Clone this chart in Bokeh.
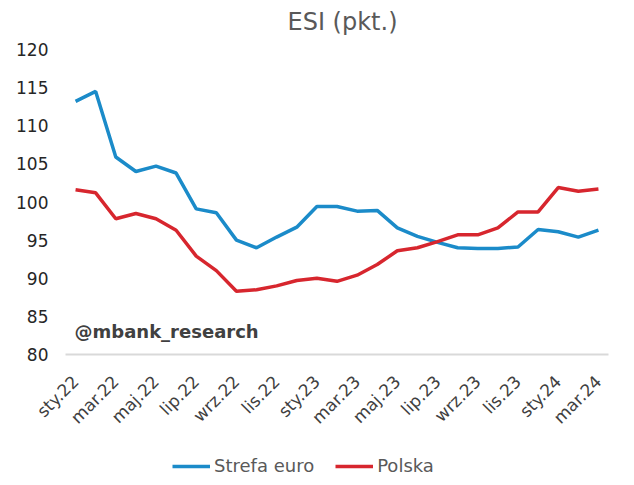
import math
from bokeh.plotting import figure
from bokeh.layouts import column
from bokeh.models import Label, Legend, LegendItem, FixedTicker, ColumnDataSource
from bokeh.embed import file_html
from bokeh.resources import INLINE

months = ["sty.22", "lut.22", "mar.22", "kwi.22", "maj.22", "cze.22", "lip.22", "sie.22", "wrz.22", "paź.22", "lis.22", "gru.22",
          "sty.23", "lut.23", "mar.23", "kwi.23", "maj.23", "cze.23", "lip.23", "sie.23", "wrz.23", "paź.23", "lis.23", "gru.23",
          "sty.24", "lut.24", "mar.24"]
strefa_euro = [113.2, 114.5, 105.9, 104.0, 104.7, 103.8, 99.1, 98.6, 95.0, 94.0, 95.4, 96.7,
               99.4, 99.4, 98.8, 98.9, 96.6, 95.5, 94.7, 94.0, 93.9, 93.9, 94.1, 96.4,
               96.1, 95.4, 96.3]
polska = [101.6, 101.2, 97.8, 98.5, 97.8, 96.3, 92.9, 91.0, 88.3, 88.5, 89.0, 89.7,
          90.0, 89.6, 90.4, 91.8, 93.6, 94.0, 94.8, 95.7, 95.7, 96.6, 98.7, 98.7,
          101.9, 101.4, 101.7]
y_ticks = [80, 85, 90, 95, 100, 105, 110, 115, 120]
title_text = "ESI (pkt.)"
watermark = "@mbank_research"
series_names = ["Strefa euro", "Polska"]
colors = ["#1b8bc9", "#d7262e"]

FONT = "DejaVu Sans"
x = list(range(len(months)))
src = ColumnDataSource(dict(x=x, euro=strefa_euro, pl=polska))

# title strip
pt = figure(frame_width=618, frame_height=40, output_backend="svg", toolbar_location=None,
            x_range=(0, 618), y_range=(0, 40), x_axis_type=None, y_axis_type=None,
            min_border=0)
pt.outline_line_color = None
pt.xgrid.grid_line_color = None
pt.ygrid.grid_line_color = None
pt.add_layout(Label(x=222, y=19, text=title_text, text_align="left", text_baseline="middle",
                    text_font=FONT, text_font_size="24px", text_color="#595959"))

# main chart
p = figure(frame_width=543, frame_height=305, output_backend="svg", toolbar_location=None,
           x_range=(-0.5, len(months) - 0.5), y_range=(80, 120),
           min_border_left=65, min_border_right=10, min_border_top=9, min_border_bottom=94)
p.title = None
p.outline_line_color = None
p.background_fill_color = "white"
p.border_fill_color = "white"
p.xgrid.grid_line_color = None
p.ygrid.grid_line_color = None

p.line("x", "euro", source=src, line_color=colors[0], line_width=3.5)
p.line("x", "pl", source=src, line_color=colors[1], line_width=3.5)

# x axis
p.xaxis.ticker = FixedTicker(ticks=x[::2])
p.xaxis.major_label_overrides = {i: months[i] for i in x}
p.xaxis.major_label_orientation = math.pi / 4
p.xaxis.axis_line_color = "#d9d9d9"
p.xaxis.axis_line_width = 2
p.xaxis.major_tick_line_color = None
p.xaxis.minor_tick_line_color = None
p.xaxis.major_tick_out = 0
p.xaxis.major_tick_in = 0
p.xaxis.major_label_standoff = 24
p.xaxis.major_label_text_font = FONT
p.xaxis.major_label_text_font_size = "17px"
p.xaxis.major_label_text_color = "#404040"

# y axis
p.yaxis.ticker = FixedTicker(ticks=y_ticks)
p.yaxis.axis_line_color = None
p.yaxis.major_tick_line_color = None
p.yaxis.minor_tick_line_color = None
p.yaxis.major_tick_out = 0
p.yaxis.major_tick_in = 0
p.yaxis.major_label_standoff = 17
p.yaxis.major_label_text_font = FONT
p.yaxis.major_label_text_font_size = "17px"
p.yaxis.major_label_text_color = "#262626"

# watermark
p.add_layout(Label(x=-0.05, y=83.0, text=watermark, text_align="left", text_baseline="middle",
                   text_font=FONT, text_font_size="18px", text_font_style="bold",
                   text_color="#404040"))

# legend strip (series drawn off-view so only the legend shows)
pl = figure(frame_width=618, frame_height=36, output_backend="svg", toolbar_location=None,
            x_range=(1000, 1001), y_range=(0, 1), x_axis_type=None, y_axis_type=None,
            min_border=0)
pl.outline_line_color = None
pl.xgrid.grid_line_color = None
pl.ygrid.grid_line_color = None
lr1 = pl.line("x", "euro", source=src, line_color=colors[0], line_width=3.5)
lr2 = pl.line("x", "pl", source=src, line_color=colors[1], line_width=3.5)
legend = Legend(items=[LegendItem(label=series_names[0], renderers=[lr1]),
                       LegendItem(label=series_names[1], renderers=[lr2])],
                orientation="horizontal", location=(172, 8),
                border_line_color=None, background_fill_alpha=0,
                padding=0, margin=0, spacing=21, glyph_width=38, glyph_height=20,
                label_standoff=4, label_text_font=FONT, label_text_font_size="18px",
                label_text_color="#595959")
pl.add_layout(legend)

layout = column(pt, p, pl, spacing=0)
open("out.html", "w").write(file_html(layout, INLINE))
